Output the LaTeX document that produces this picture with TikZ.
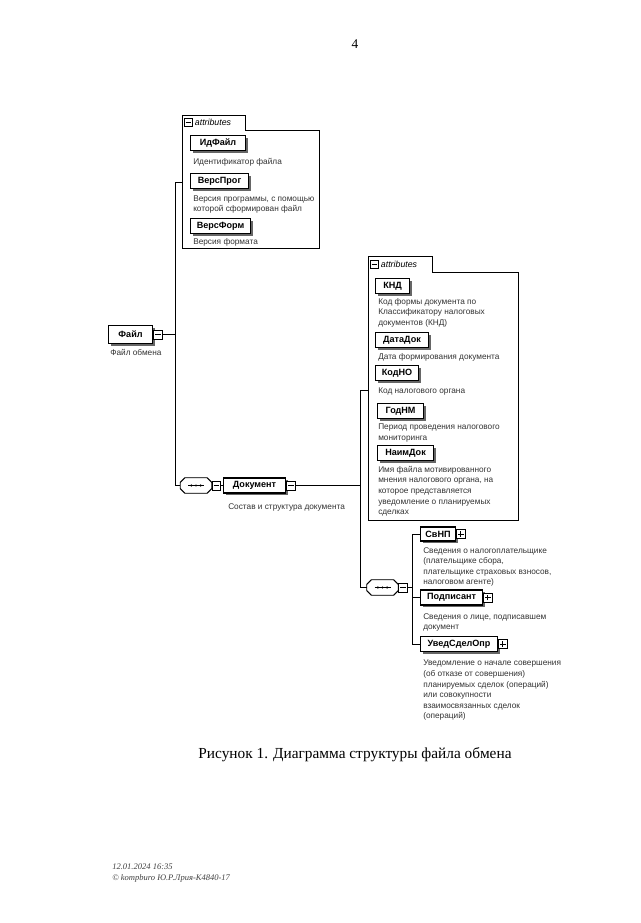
\documentclass[tikz,border=0pt]{standalone}
\usepackage{fontspec}
\setmainfont{Liberation Serif}
\newfontfamily\xsans{Liberation Sans}
\usetikzlibrary{shadows}
\tikzset{
 elem/.style={draw=black, line width=0.8pt, fill=white, anchor=north west, inner sep=0pt,
   minimum height=11.25pt, font=\xsans\bfseries\fontsize{6.8}{8}\selectfont,
   drop shadow={shadow xshift=1.8pt, shadow yshift=-1.8pt, fill=black!60, opacity=1}},
 sq/.style={draw=black, line width=0.5pt, fill=white, minimum size=6.5pt, inner sep=0pt, anchor=west},
 desc/.style={anchor=north west, inner sep=0pt, align=left, text=black!80,
   font=\xsans\fontsize{6.2}{7.9}\selectfont},
 descb/.style={desc, font=\xsans\fontsize{6.2}{7.4}\selectfont},
 seqbox/.style={rectangle, minimum width=23.25pt, minimum height=11.25pt, inner sep=0pt},
 conn/.style={line width=0.6pt},
 frame/.style={line width=0.6pt},
 tabtxt/.style={anchor=west, inner sep=0pt, font=\xsans\itshape\fontsize{6.6}{8}\selectfont},
}
\newcommand\mkminus[1]{\draw[line width=0.5pt] ([xshift=1.3pt]#1.west) -- ([xshift=-1.3pt]#1.east);}
\newcommand\mkplus[1]{\mkminus{#1}\draw[line width=0.5pt] ([yshift=1.3pt]#1.south) -- ([yshift=-1.3pt]#1.north);}
\newcommand\mkoct[2]{\path[#2] ([xshift=3.5pt]#1.north west) -- ([xshift=-3.5pt]#1.north east)
  -- ([yshift=-3.5pt]#1.north east) -- ([yshift=3.5pt]#1.south east) -- ([xshift=-3.5pt]#1.south east)
  -- ([xshift=3.5pt]#1.south west) -- ([yshift=3.5pt]#1.south west) -- ([yshift=-3.5pt]#1.north west) -- cycle;}
\newcommand\mkseq[1]{\mkoct{#1}{fill=black!60, xshift=1.8pt, yshift=-1.8pt}
  \mkoct{#1}{draw=black, fill=white, line width=0.7pt}
  \draw[line width=0.5pt] ([xshift=-6pt]#1.center) -- ([xshift=6pt]#1.center);
  \foreach \d in {-3.5,0,3.5} \fill ([xshift=\d pt]#1.center) circle (0.9pt);}
\begin{document}
\begin{tikzpicture}[x=0.75pt,y=-0.75pt]
\fill[white] (0,0) rectangle (640,923);
\useasboundingbox (0,0) rectangle (640,923);

% page number
\node[font=\fontsize{10}{12}\selectfont] (pg) at (355,44) {4};

% root element
\node[elem, minimum width=33pt, minimum height=13.5pt] (fajl) at (108,325) {Файл};
\node[sq] (fajlm) at (fajl.east) {}; \mkminus{fajlm}
\node[desc] (fajld) at (110,349) {Файл обмена};

% attributes box 1
\draw[frame] (182,248) -- (182,115) -- (245,115) -- (245,130) -- (319,130) -- (319,248) -- cycle;
\coordinate (box1) at (182,182);
\node[sq, minimum size=6pt] (tab1m) at (184,122.5) {}; \mkminus{tab1m}
\node[tabtxt] (tab1t) at ([xshift=1.5pt]tab1m.east) {attributes};

\node[elem, minimum width=41.25pt] (idf) at (190,135) {ИдФайл};
\node[descb] (idfd) at (193,158) {Идентификатор файла};
\node[elem, minimum width=43.5pt] (vp) at (190,173) {ВерсПрог};
\node[descb] (vpd) at (193,196) {Версия программы, с помощью\\которой сформирован файл};
\node[elem, minimum width=45pt] (vf) at (190,218) {ВерсФорм};
\node[descb] (vfd) at (193,238) {Версия формата};

% first trunk
\coordinate (v1top) at (175,182);
\coordinate (v1bot) at (175,485.5);
\node[seqbox] (seq1) at (196,485.5) {}; \mkseq{seq1}
\node[sq] (seq1m) at (seq1.east) {}; \mkminus{seq1m}
\node[elem, minimum width=46.5pt, anchor=west] (doc) at (223,485.5) {Документ};
\node[sq] (docm) at (doc.east) {}; \mkminus{docm}
\node[desc] (docd) at (228,503) {Состав и структура документа};

\draw[conn] (fajlm.east) -- (fajlm.east -| v1top);
\draw[conn] (box1) -- (v1top) -- (v1bot) -- (seq1.west);
\draw[conn] (seq1m.east) -- (doc.west);

% attributes box 2
\draw[frame] (368,520) -- (368,256) -- (432,256) -- (432,272) -- (518,272) -- (518,520) -- cycle;
\coordinate (box2) at (368,390);
\node[sq, minimum size=6pt] (tab2m) at (370,264) {}; \mkminus{tab2m}
\node[tabtxt] (tab2t) at ([xshift=1.5pt]tab2m.east) {attributes};

\node[elem, minimum width=25.5pt] (knd) at (375,278) {КНД};
\node[desc] (kndd) at (378,298) {Код формы документа по\\Классификатору налоговых\\документов (КНД)};
\node[elem, minimum width=39.75pt] (dd) at (375,332) {ДатаДок};
\node[desc] (ddd) at (378,353) {Дата формирования документа};
\node[elem, minimum width=32.25pt] (kno) at (375,365) {КодНО};
\node[desc] (knod) at (378,388) {Код налогового органа};
\node[elem, minimum width=34.5pt] (gnm) at (377,403) {ГодНМ};
\node[desc] (gnmd) at (378,424) {Период проведения налогового\\мониторинга};
\node[elem, minimum width=42pt] (nd) at (377,445) {НаимДок};
\node[desc] (ndd) at (378,466) {Имя файла мотивированного\\мнения налогового органа, на\\которое представляется\\уведомление о планируемых\\сделках};

% second trunk
\coordinate (v2a) at (360,390);
\coordinate (v2b) at (360,587.5);
\node[seqbox] (seq2) at (382.5,587.5) {}; \mkseq{seq2}
\node[sq] (seq2m) at (seq2.east) {}; \mkminus{seq2m}
\draw[conn] (docm.east) -- (docm.east -| v2a);
\draw[conn] (box2) -- (v2a) -- (v2b) -- (seq2.west);

% children of sequence
\coordinate (v3a) at (412,534);
\coordinate (v3b) at (412,644);
\node[elem, minimum width=26.25pt, minimum height=10.5pt, anchor=west] (svnp) at (420,534) {СвНП};
\node[sq] (svnpm) at (svnp.east) {}; \mkplus{svnpm}
\node[desc] (svnpd) at (423,547) {Сведения о налогоплательщике\\(плательщике сбора,\\плательщике страховых взносов,\\налоговом агенте)};
\node[elem, minimum width=46.5pt, anchor=west] (podp) at (420,597.5) {Подписант};
\node[sq] (podpm) at (podp.east) {}; \mkplus{podpm}
\node[desc] (podpd) at (423,613) {Сведения о лице, подписавшем\\документ};
\node[elem, minimum width=57.75pt, anchor=west] (uved) at (420,644) {УведСделОпр};
\node[sq] (uvedm) at (uved.east) {}; \mkplus{uvedm}
\node[desc] (uvedd) at (423,660) {Уведомление о начале совершения\\(об отказе от совершения)\\планируемых сделок (операций)\\или совокупности\\взаимосвязанных сделок\\(операций)};

\draw[conn] (seq2m.east) -- (seq2m.east -| v3a);
\draw[conn] (svnp.west) -- (v3a) -- (v3b) -- (uved.west);
\draw[conn] (podp.west) -- (podp.west -| v3a);

% caption
\node[font=\fontsize{11.5}{14}\selectfont] (cap) at (355,755) {Рисунок 1. Диаграмма структуры файла обмена};

% footer
\node[anchor=north west, inner sep=0pt, align=left, text=black!75, font=\itshape\fontsize{6.4}{7.6}\selectfont] (foot) at (112,864) {12.01.2024 16:35\\© kompburo Ю.Р.Лрия-К4840-17};
\end{tikzpicture}
\end{document}
